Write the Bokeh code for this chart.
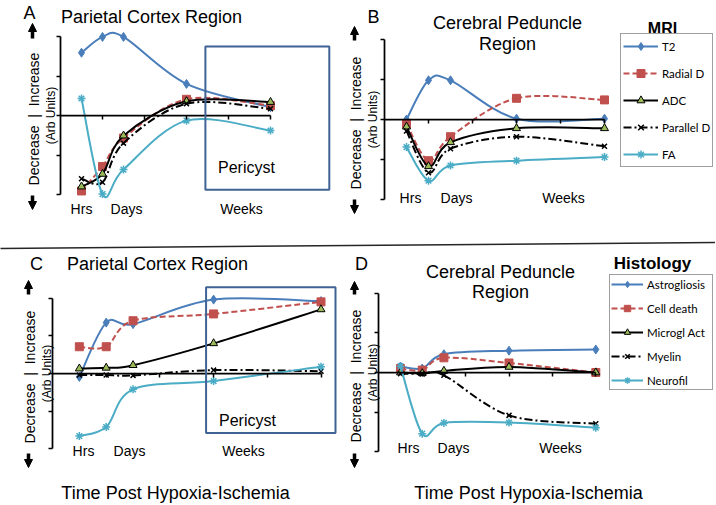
import math
from bokeh.plotting import figure
from bokeh.models import (LinearAxis, FixedTicker, Label, Legend, LegendItem, BoxAnnotation,
                          Arrow, NormalHead, Range1d, Slope, ColumnDataSource)
from bokeh.layouts import column, row
from bokeh.embed import file_html
from bokeh.resources import INLINE

# ---------------- data ----------------
TIME = [0.5, 1, 1.5, 3, 5]          # Hrs ... Days ... Weeks (arbitrary time axis)
TIME_TICKS = [1, 2, 3, 4, 5]
VALUE_TICKS = [-2, -1, 0, 1, 2]
TIME_LABELS = ["Hrs", "Days", "Weeks"]

MRI_NAMES = ["T2", "Radial D", "ADC", "Parallel D", "FA"]
HIST_NAMES = ["Astrogliosis", "Cell death", "Microgl Act", "Myelin", "Neurofil"]

# Panel A - MRI, Parietal Cortex Region
A_T2 = [1.59, 1.99, 1.99, 0.80, 0.21]
A_RADIAL_D = [-1.91, -1.29, -0.57, 0.41, 0.25]
A_ADC = [-1.80, -1.48, -0.51, 0.36, 0.34]
A_PARALLEL_D = [-1.60, -1.69, -0.70, 0.30, 0.17]
A_FA = [0.43, -1.99, -1.37, -0.13, -0.38]

# Panel B - MRI, Cerebral Peduncle Region
B_T2 = [0.00, 0.98, 0.98, 0.02, 0.02]
B_RADIAL_D = [-0.11, -1.03, -0.43, 0.53, 0.49]
B_ADC = [-0.18, -1.17, -0.57, -0.22, -0.22]
B_PARALLEL_D = [-0.29, -1.33, -0.73, -0.43, -0.67]
B_FA = [-0.69, -1.53, -1.15, -1.03, -0.94]

# Panel C - Histology, Parietal Cortex Region
C_ASTRO = [-0.09, 1.35, 1.31, 1.96, 1.92]
C_CELL_DEATH = [0.71, 0.71, 1.40, 1.58, 1.90]
C_MICROGL = [0.13, 0.15, 0.22, 0.80, 1.70]
C_MYELIN = [-0.04, -0.04, -0.05, 0.09, 0.06]
C_NEUROFIL = [-1.66, -1.42, -0.42, -0.20, 0.18]

# Panel D - Histology, Cerebral Peduncle Region
D_ASTRO = [0.15, 0.10, 0.46, 0.55, 0.58]
D_CELL_DEATH = [0.10, 0.06, 0.37, 0.24, 0.00]
D_MICROGL = [0.00, -0.02, 0.04, 0.14, 0.00]
D_MYELIN = [-0.03, -0.04, -0.07, -1.08, -1.29]
D_NEUROFIL = [0.16, -1.54, -1.27, -1.26, -1.39]

# Pericyst time windows (left, right, bottom, top) in chart units
PERICYST_A = (3.45, 6.40, -1.88, 1.75)
PERICYST_C = (2.86, 5.27, -1.58, 2.29)

# ---------------- styles ----------------
FONT = "Liberation Sans"
LEG_FONT = "Lato"
NB = "\u00a0"
Y_TITLE = f"Decrease{NB}{NB}|{NB}{NB}Increase"
STYLES = [
    dict(color="#4A7EBB", dash="solid", marker="diamond", fill="#4A7EBB", mline="#4A7EBB", size=9, mlw=1),
    dict(color="#C0504D", dash="6 3", marker="square", fill="#C0504D", mline="#C0504D", size=8, mlw=1),
    dict(color="black", dash="solid", marker="triangle", fill="#9BBB59", mline="black", size=8, mlw=1),
    dict(color="black", dash="8 3 2 3", marker="x", fill=None, mline="black", size=7, mlw=1.5),
    dict(color="#4BACC6", dash="solid", marker="asterisk", fill=None, mline="#4BACC6", size=8, mlw=1.5),
]

# page geometry of each panel: figure box (left, top, w, h), y-axis page x, px per unit, zero line page y
GEO = {
    "A": dict(fig=(0, 0, 344, 238), ax=60.0, ppx=42.0, zy=115.0, ppy=39.5),
    "B": dict(fig=(344, 0, 371, 238), ax=384.0, ppx=44.0, zy=119.0, ppy=40.0),
    "C": dict(fig=(0, 250, 344, 254), ax=52.0, ppx=53.7, zy=373.0, ppy=37.7),
    "D": dict(fig=(344, 250, 371, 254), ax=378.3, ppx=43.4, zy=372.0, ppy=39.7),
}


def to_data(g, px, py):
    return (px - g["ax"]) / g["ppx"], (g["zy"] - py) / g["ppy"]


def smooth_segments(xs, ys):
    n = len(xs)
    pts = list(zip(xs, ys))
    out = {k: [] for k in ("x0", "y0", "x1", "y1", "cx0", "cy0", "cx1", "cy1")}
    for i in range(n - 1):
        a = pts[i - 1] if i > 0 else pts[i]
        b = pts[i]
        c = pts[i + 1]
        d = pts[i + 2] if i + 2 < n else pts[i + 1]
        out["x0"].append(b[0]); out["y0"].append(b[1])
        out["x1"].append(c[0]); out["y1"].append(c[1])
        out["cx0"].append(b[0] + (c[0] - a[0]) / 6.0)
        out["cy0"].append(b[1] + (c[1] - a[1]) / 6.0)
        out["cx1"].append(c[0] - (d[0] - b[0]) / 6.0)
        out["cy1"].append(c[1] - (d[1] - b[1]) / 6.0)
    return out


def make_fig(key):
    g = GEO[key]
    fx, fy, w, h = g["fig"]
    p = figure(width=w, height=h, output_backend="svg", toolbar_location=None,
               x_axis_type=None, y_axis_type=None, title=None,
               x_range=Range1d((fx - g["ax"]) / g["ppx"], (fx + w - g["ax"]) / g["ppx"]),
               y_range=Range1d((g["zy"] - (fy + h)) / g["ppy"], (g["zy"] - fy) / g["ppy"]),
               min_border=0)
    p.outline_line_color = None
    p.background_fill_color = "white"
    p.border_fill_color = "white"
    common = dict(major_tick_in=0, major_tick_out=4, minor_tick_in=0, minor_tick_out=0,
                  minor_tick_line_color=None, axis_line_width=1.75, major_tick_line_width=1.5,
                  axis_line_color="black", major_tick_line_color="black",
                  major_label_text_font_size="0px", major_label_standoff=0, fixed_location=0)
    yax = LinearAxis(ticker=FixedTicker(ticks=VALUE_TICKS), bounds=(VALUE_TICKS[0], VALUE_TICKS[-1]),
                     major_label_overrides={t: "" for t in VALUE_TICKS}, **common)
    p.add_layout(yax, "left")
    xax = LinearAxis(ticker=FixedTicker(ticks=TIME_TICKS), bounds=(0, TIME_TICKS[-1]),
                     major_label_overrides={t: "" for t in TIME_TICKS}, **common)
    p.add_layout(xax, "below")
    return p, g


def add_series(p, series):
    renderers = []
    for vals, st in zip(series, STYLES):
        src = ColumnDataSource(smooth_segments(TIME, vals))
        bz = p.bezier(x0="x0", y0="y0", x1="x1", y1="y1", cx0="cx0", cy0="cy0", cx1="cx1", cy1="cy1",
                      source=src, line_color=st["color"], line_width=2, line_dash=st["dash"])
        sc = p.scatter(TIME, vals, marker=st["marker"], size=st["size"], fill_color=st["fill"],
                       line_color=st["mline"], line_width=st["mlw"])
        renderers.append([bz, sc])
    return renderers


def text(p, g, px, py, s, size, bold=False, angle=0.0, font=FONT):
    x, y = to_data(g, px, py)
    p.add_layout(Label(x=x, y=y, text=s, text_font=font, text_font_size=f"{size}px",
                       text_font_style="bold" if bold else "normal", angle=angle,
                       text_align="center", text_baseline="middle", text_color="black"))


def arrow(p, g, px, py0, py1):
    x0, y0 = to_data(g, px, py0)
    x1, y1 = to_data(g, px, py1)
    p.add_layout(Arrow(start=None, end=NormalHead(size=8, fill_color="black", line_color="black", line_width=1),
                       x_start=x0, y_start=y0, x_end=x1, y_end=y1, line_width=3.5, line_color="black"))


def y_labels(p, g, x_main, x_sub, y_bar, top_arrow, bottom_arrow):
    text(p, g, x_main, y_bar + 3.5, Y_TITLE, 14, angle=math.pi / 2)
    text(p, g, x_sub, y_bar, "(Arb Units)", 12, angle=math.pi / 2)
    arrow(p, g, x_main - 1, top_arrow[0], top_arrow[1])
    arrow(p, g, x_main - 1, bottom_arrow[0], bottom_arrow[1])


def time_labels(p, g, xs, y):
    for s, x in zip(TIME_LABELS, xs):
        text(p, g, x, y, s, 14)


def pericyst(p, g, box, px, py):
    l, r, b, t = box
    p.add_layout(BoxAnnotation(left=l, right=r, bottom=b, top=t, fill_alpha=0,
                               line_color="#3F6394", line_alpha=1.0, line_width=2))
    text(p, g, px, py, "Pericyst", 16)


def legend(p, g, names, rends, left_px, top_px, glyph_w, item_h, spacing, pad, label_w):
    n = len(names)
    h = 2 * pad + n * item_h + (n - 1) * spacing
    fx, fy, w, hh = g["fig"]
    items = [LegendItem(label=nm, renderers=r) for nm, r in zip(names, rends)]
    lg = Legend(items=items, location=(left_px - fx, (fy + hh) - (top_px + h)), margin=0, padding=pad,
                spacing=spacing, glyph_width=glyph_w, glyph_height=item_h, label_height=item_h,
                label_width=label_w, label_standoff=4, label_text_font=LEG_FONT,
                label_text_font_size="11.5px", label_text_color="black",
                border_line_color="#404040", border_line_width=1,
                background_fill_color="white", background_fill_alpha=1.0)
    p.add_layout(lg)


# ---------------- panel A ----------------
pA, gA = make_fig("A")
add_series(pA, [A_T2, A_RADIAL_D, A_ADC, A_PARALLEL_D, A_FA])
pericyst(pA, gA, PERICYST_A, 246, 167)
text(pA, gA, 29, 12, "A", 18)
text(pA, gA, 151, 16, "Parietal Cortex Region", 18)
y_labels(pA, gA, 33, 50, 115, (38, 23), (195, 209))
time_labels(pA, gA, [81, 126, 241], 208)

# ---------------- panel B ----------------
pB, gB = make_fig("B")
rB = add_series(pB, [B_T2, B_RADIAL_D, B_ADC, B_PARALLEL_D, B_FA])
text(pB, gB, 373, 16, "B", 18)
text(pB, gB, 507, 22, "Cerebral Peduncle", 18)
text(pB, gB, 507, 43, "Region", 18)
y_labels(pB, gB, 355, 372, 119, (40, 26), (199, 213))
time_labels(pB, gB, [410, 456, 563], 197)
text(pB, gB, 662, 28, "MRI", 16, bold=True)
legend(pB, gB, MRI_NAMES, rB, 620, 35, 35, 20, 7, 2, 48)

# ---------------- divider ----------------
pDiv = figure(width=715, height=12, output_backend="svg", toolbar_location=None,
              x_axis_type=None, y_axis_type=None, title=None,
              x_range=Range1d(0, 715), y_range=Range1d(0, 12), min_border=0)
pDiv.outline_line_color = None
pDiv.add_layout(Slope(gradient=(8.0 - 2.0) / 715.0, y_intercept=2.0, line_color="#262626", line_width=1.5))

# ---------------- panel C ----------------
pC, gC = make_fig("C")
add_series(pC, [C_ASTRO, C_CELL_DEATH, C_MICROGL, C_MYELIN, C_NEUROFIL])
pericyst(pC, gC, PERICYST_C, 247, 420)
text(pC, gC, 36, 263, "C", 18)
text(pC, gC, 157, 263, "Parietal Cortex Region", 18)
y_labels(pC, gC, 29, 46, 373, (294, 280), (453, 467))
time_labels(pC, gC, [83, 129, 243], 450)
text(pC, gC, 175, 492, "Time Post Hypoxia-Ischemia", 18)

# ---------------- panel D ----------------
pD, gD = make_fig("D")
rD = add_series(pD, [D_ASTRO, D_CELL_DEATH, D_MICROGL, D_MYELIN, D_NEUROFIL])
text(pD, gD, 361, 263, "D", 18)
text(pD, gD, 500, 271, "Cerebral Peduncle", 18)
text(pD, gD, 500, 291, "Region", 18)
y_labels(pD, gD, 355, 372, 372, (294, 281), (453, 467))
time_labels(pD, gD, [408, 453, 560], 447)
text(pD, gD, 652, 263, "Histology", 17, bold=True)
text(pD, gD, 528, 492, "Time Post Hypoxia-Ischemia", 18)
legend(pD, gD, HIST_NAMES, rD, 609, 276, 32, 16, 8, 1, 64)

layout = column(row(pA, pB), pDiv, row(pC, pD))
open("out.html", "w").write(file_html(layout, INLINE))
